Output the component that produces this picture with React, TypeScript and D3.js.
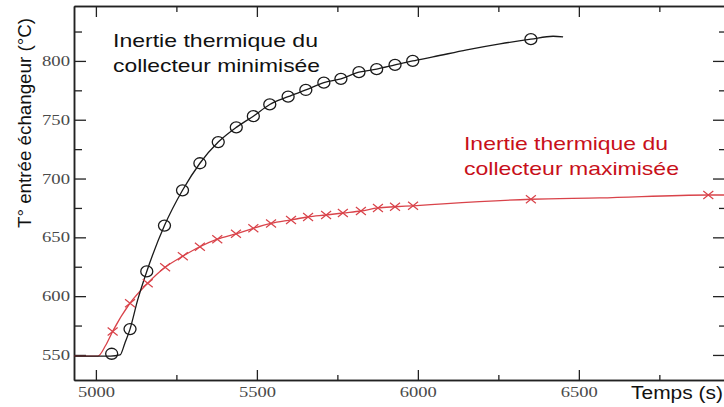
import React, { useEffect, useRef } from "react";
import * as d3 from "d3";

// courbe noire : inertie du collecteur minimisée
const blackLineTime = [4932, 5045, 5075, 5090, 5106, 5130, 5158, 5213, 5269, 5323, 5380, 5436, 5489, 5540, 5597, 5652, 5708, 5761, 5817, 5872, 5929, 5984, 6047, 6152, 6255, 6351, 6420, 6451];
const blackLineTemp = [549, 549, 550, 560, 572, 597, 621, 660, 690, 713, 731, 743.5, 753, 763, 769.6, 775.3, 781.5, 784.8, 790.4, 793, 796.6, 800, 803.4, 809.4, 814.5, 818.5, 821, 820.5];
const blackMarkTime = [5049, 5106, 5158, 5213, 5269, 5323, 5380, 5436, 5489, 5540, 5597, 5652, 5708, 5761, 5817, 5872, 5929, 5984, 6351];
const blackMarkTemp = [551, 572, 621, 660, 690, 713, 731, 743.5, 753, 763, 769.6, 775.3, 781.5, 784.8, 790.4, 793, 796.6, 800, 818.5];

// courbe rouge : inertie du collecteur maximisée
const redLineTime = [4932, 5006, 5030, 5052, 5106, 5161, 5215, 5270, 5323, 5377, 5435, 5489, 5544, 5606, 5659, 5715, 5767, 5823, 5876, 5929, 5985, 6078, 6351, 6565, 6902, 6957];
const redLineTemp = [549, 549, 558, 570, 594, 611, 624.5, 634, 642, 648.4, 653, 657.7, 661.8, 664.8, 667.3, 669, 670.7, 672.4, 675, 676, 676.8, 678.5, 682.4, 683.5, 686, 686];
const redMarkTime = [5052, 5106, 5161, 5215, 5270, 5323, 5377, 5435, 5489, 5544, 5606, 5659, 5715, 5767, 5823, 5876, 5929, 5985, 6351, 6902];
const redMarkTemp = [570, 594, 611, 624.5, 634, 642, 648.4, 653, 657.7, 661.8, 664.8, 667.3, 669, 670.7, 672.4, 675, 676, 676.8, 682.4, 686];

const xMajor = [5000, 5500, 6000, 6500];
const xMinor = [5250, 5750, 6250, 6750];
const yMajor = [550, 600, 650, 700, 750, 800];
const yMinor = [575, 625, 675, 725, 775, 825];

const App = () => {
  const width = 724;
  const height = 407;
  const svgRef = useRef(null);

  useEffect(() => {
    const svg = d3.select(svgRef.current);
    svg.selectAll("*").remove();

    const left = 74, right = 726, top = 6, bottom = 380;

    const x = d3.scaleLinear().domain([4932, 6957]).range([left, right]);
    const y = d3.scaleLinear().domain([528.7, 846.7]).range([bottom, top]);

    const frame = "#222";

    // ticks (inward, mirrored)
    const styleAxis = (g) => {
      g.select(".domain").attr("stroke", frame).attr("stroke-width", 1.5);
      g.selectAll(".tick line").attr("stroke", frame).attr("stroke-width", 1.3);
    };

    svg.append("g").attr("transform", `translate(0,${bottom})`)
      .call(d3.axisBottom(x).tickValues(xMinor).tickSize(-5).tickSizeOuter(0).tickFormat(() => ""))
      .call(styleAxis);
    const xAx = svg.append("g").attr("transform", `translate(0,${bottom})`)
      .call(d3.axisBottom(x).tickValues(xMajor).tickSize(-10).tickSizeOuter(0).tickPadding(7).tickFormat(d3.format("d")))
      .call(styleAxis);

    svg.append("g").attr("transform", `translate(0,${top})`)
      .call(d3.axisTop(x).tickValues(xMinor).tickSize(-6).tickSizeOuter(0).tickFormat(() => ""))
      .call(styleAxis);
    svg.append("g").attr("transform", `translate(0,${top})`)
      .call(d3.axisTop(x).tickValues(xMajor).tickSize(-11).tickSizeOuter(0).tickFormat(() => ""))
      .call(styleAxis);

    svg.append("g").attr("transform", `translate(${left},0)`)
      .call(d3.axisLeft(y).tickValues(yMinor).tickSize(-8).tickSizeOuter(0).tickFormat(() => ""))
      .call(styleAxis);
    const yAx = svg.append("g").attr("transform", `translate(${left},0)`)
      .call(d3.axisLeft(y).tickValues(yMajor).tickSize(-12).tickSizeOuter(0).tickPadding(4).tickFormat(d3.format("d")))
      .call(styleAxis);

    svg.append("g").attr("transform", `translate(${right},0)`)
      .call(d3.axisRight(y).tickValues(yMinor).tickSize(-7).tickSizeOuter(0).tickFormat(() => ""))
      .call(styleAxis);
    svg.append("g").attr("transform", `translate(${right},0)`)
      .call(d3.axisRight(y).tickValues(yMajor).tickSize(-13).tickSizeOuter(0).tickFormat(() => ""))
      .call(styleAxis);

    [xAx, yAx].forEach((g) => {
      g.selectAll(".tick text")
        .attr("fill", "#4a4a4a")
        .style("font-family", "'Liberation Serif', 'DejaVu Serif', serif")
        .style("font-size", "14px");
    });
    xAx.selectAll(".tick text").attr("textLength", 37).attr("lengthAdjust", "spacingAndGlyphs");
    yAx.selectAll(".tick text").attr("textLength", 28).attr("lengthAdjust", "spacingAndGlyphs");

    // lines
    const line = d3.line()
      .x((d) => x(d[0]))
      .y((d) => y(d[1]))
      .curve(d3.curveMonotoneX);

    const blackLine = blackLineTime.map((t, i) => [t, blackLineTemp[i]]);
    const redLine = redLineTime.map((t, i) => [t, redLineTemp[i]]);

    svg.append("path")
      .datum(redLine)
      .attr("d", line)
      .attr("fill", "none")
      .attr("stroke", "#d9434a")
      .attr("stroke-width", 1.3);

    svg.append("path")
      .datum(blackLine)
      .attr("d", line)
      .attr("fill", "none")
      .attr("stroke", "#1a1a1a")
      .attr("stroke-width", 1.3);

    // markers
    svg.append("g").selectAll("ellipse")
      .data(blackMarkTime.map((t, i) => [t, blackMarkTemp[i]]))
      .join("ellipse")
      .attr("cx", (d) => x(d[0]))
      .attr("cy", (d) => y(d[1]))
      .attr("rx", 6)
      .attr("ry", 5.5)
      .attr("fill", "none")
      .attr("stroke", "#1a1a1a")
      .attr("stroke-width", 1.3);

    const cross = (d) => {
      const cx = x(d[0]), cy = y(d[1]);
      return `M${cx - 5},${cy - 4}L${cx + 5},${cy + 4}M${cx - 5},${cy + 4}L${cx + 5},${cy - 4}`;
    };
    svg.append("g").selectAll("path")
      .data(redMarkTime.map((t, i) => [t, redMarkTemp[i]]))
      .join("path")
      .attr("d", cross)
      .attr("fill", "none")
      .attr("stroke", "#d9434a")
      .attr("stroke-width", 1.2);

    // titles
    svg.append("text")
      .attr("transform", `translate(31,123) rotate(-90)`)
      .attr("text-anchor", "middle")
      .attr("textLength", 210)
      .attr("lengthAdjust", "spacingAndGlyphs")
      .style("font-family", "'Liberation Sans', Arial, sans-serif")
      .style("font-size", "18px")
      .attr("fill", "#111")
      .text("T° entrée échangeur (°C)");

    svg.append("text")
      .attr("x", 723)
      .attr("y", 399)
      .attr("text-anchor", "end")
      .attr("textLength", 92)
      .attr("lengthAdjust", "spacingAndGlyphs")
      .style("font-family", "'Liberation Sans', Arial, sans-serif")
      .style("font-size", "18px")
      .attr("fill", "#111")
      .text("Temps (s)");

    const notes = [
      { x: 113, y: 47, len: 205, color: "#111", text: "Inertie thermique du" },
      { x: 113, y: 72, len: 207, color: "#111", text: "collecteur minimisée" },
      { x: 464, y: 150, len: 204, color: "#c8101a", text: "Inertie thermique du" },
      { x: 464, y: 175, len: 215, color: "#c8101a", text: "collecteur maximisée" },
    ];
    svg.append("g").selectAll("text")
      .data(notes)
      .join("text")
      .attr("x", (d) => d.x)
      .attr("y", (d) => d.y)
      .attr("textLength", (d) => d.len)
      .attr("lengthAdjust", "spacingAndGlyphs")
      .style("font-family", "'Liberation Sans', Arial, sans-serif")
      .style("font-size", "19px")
      .attr("fill", (d) => d.color)
      .text((d) => d.text);
  }, []);

  return (
    <svg
      ref={svgRef}
      width={width}
      height={height}
      style={{ position: "absolute", left: 0, top: 0, background: "#fff" }}
    ></svg>
  );
};

export default App;
